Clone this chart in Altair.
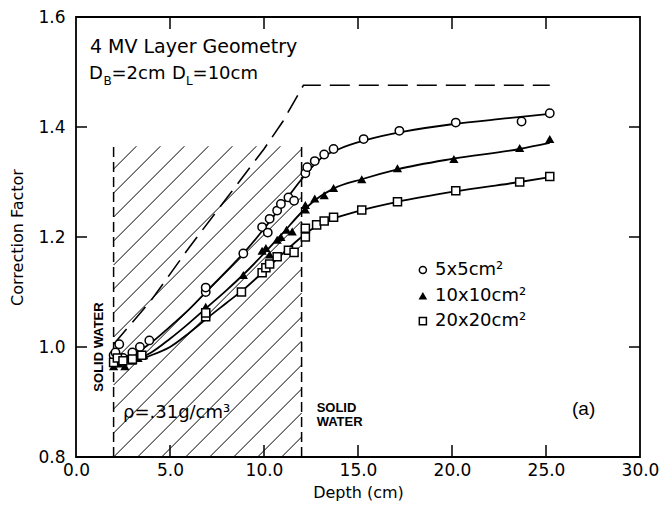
import altair as alt
import pandas as pd

# ---------------- data ----------------
X_TICKS = [0, 5, 10, 15, 20, 25, 30]
Y_TICKS = [0.8, 1.0, 1.2, 1.4, 1.6]
INNER_X_TICKS = [5, 10, 15, 20, 25]
INNER_Y_TICKS = [1.0, 1.2, 1.4]

# 5x5 cm^2 (open circles)
c5_x = [2.0, 2.1, 2.3, 2.5, 3.0, 3.4, 3.9, 6.9, 6.9, 8.9, 9.9, 10.2, 10.3, 10.7, 10.9,
        11.3, 11.6, 12.2, 12.3, 12.7, 13.2, 13.7, 15.3, 17.2, 20.2, 23.7, 25.2]
c5_y = [0.985, 0.99, 1.005, 0.98, 0.99, 1.0, 1.012, 1.1, 1.108, 1.17, 1.218, 1.208, 1.233,
        1.248, 1.26, 1.272, 1.266, 1.316, 1.327, 1.338, 1.35, 1.36, 1.378, 1.393, 1.408,
        1.41, 1.425]
c5_cx = [2.0, 2.7, 4.0, 5.0, 6.0, 7.0, 8.0, 9.0, 10.0, 11.0, 12.0, 12.5, 13.0, 14.0,
         15.5, 17.5, 20.0, 23.0, 25.2]
c5_cy = [0.985, 0.984, 1.008, 1.037, 1.068, 1.103, 1.138, 1.174, 1.215, 1.26, 1.305,
         1.325, 1.342, 1.36, 1.377, 1.392, 1.405, 1.416, 1.424]

# 10x10 cm^2 (filled triangles)
c10_x = [2.0, 2.1, 2.3, 2.6, 3.0, 3.3, 3.6, 6.9, 6.9, 8.9, 9.9, 10.1, 10.3, 10.7, 10.9,
         11.2, 11.5, 12.2, 12.2, 12.7, 13.2, 13.7, 15.2, 17.1, 20.1, 23.6, 25.2]
c10_y = [0.965, 0.975, 0.97, 0.965, 0.975, 0.98, 0.985, 1.064, 1.073, 1.131, 1.175, 1.18,
         1.168, 1.195, 1.2, 1.213, 1.21, 1.25, 1.258, 1.27, 1.276, 1.289, 1.305, 1.325,
         1.342, 1.362, 1.378]
c10_cx = [2.0, 2.5, 3.0, 4.0, 5.0, 6.0, 7.0, 8.0, 9.0, 10.0, 11.0, 12.0, 12.5, 13.0,
          13.7, 15.2, 17.1, 20.0, 23.6, 25.2]
c10_cy = [0.968, 0.97, 0.975, 0.99, 1.015, 1.043, 1.073, 1.103, 1.135, 1.17, 1.207,
          1.245, 1.261, 1.274, 1.288, 1.305, 1.323, 1.342, 1.36, 1.371]

# 20x20 cm^2 (open squares)
c20_x = [2.0, 2.2, 2.5, 3.0, 3.5, 6.9, 6.9, 8.8, 9.9, 10.1, 10.3, 10.7, 11.3, 11.6,
         12.2, 12.2, 12.8, 13.2, 13.7, 15.2, 17.1, 20.2, 23.6, 25.2]
c20_y = [0.972, 0.98, 0.975, 0.978, 0.985, 1.055, 1.062, 1.1, 1.135, 1.144, 1.151, 1.164,
         1.176, 1.172, 1.2, 1.216, 1.222, 1.229, 1.236, 1.249, 1.264, 1.284, 1.3, 1.31]
c20_cx = [2.0, 3.0, 4.0, 5.0, 6.0, 7.0, 8.0, 9.0, 10.0, 11.0, 12.0, 12.5, 13.0, 14.0,
          15.2, 17.1, 20.2, 23.6, 25.2]
c20_cy = [0.975, 0.975, 0.985, 1.0, 1.025, 1.053, 1.08, 1.107, 1.138, 1.17, 1.2, 1.213,
          1.224, 1.237, 1.249, 1.264, 1.283, 1.3, 1.309]

# dashed reference curve
dash_x = [2.0, 4.0, 6.0, 8.0, 10.0, 11.0, 12.1, 25.2]
dash_y = [1.005, 1.085, 1.18, 1.27, 1.36, 1.41, 1.476, 1.476]

# lung (hatched) slab
SLAB_X0, SLAB_X1 = 2.0, 12.0
SLAB_Y0, SLAB_Y1 = 0.8, 1.365

LEGEND_LABELS = ["5x5cm²", "10x10cm²", "20x20cm²"]
LEGEND_Y = [1.14, 1.093, 1.047]
LEGEND_SYM_X = 18.45
LEGEND_TXT_X = 19.1

# ---------------- geometry ----------------
W, H = 564, 440
XD = [0, 30]
YD = [0.8, 1.6]
PX_X = W / (XD[1] - XD[0])   # pixels per cm
PX_Y = H / (YD[1] - YD[0])   # pixels per unit

xs = alt.Scale(domain=XD, nice=False, zero=False)
ys = alt.Scale(domain=YD, nice=False, zero=False)
FONT = "DejaVu Sans"

# hatch segments (45 degree lines, 24 px apart) clipped to the slab
slab_w = (SLAB_X1 - SLAB_X0) * PX_X
slab_h = (SLAB_Y1 - SLAB_Y0) * PX_Y
hatch = []
for k in range(-14, 9):
    c = k * 24.0
    u0, v0 = (c, 0.0) if c >= 0 else (0.0, -c)
    u1 = min(slab_w, c + slab_h)
    v1 = u1 - c
    if u1 > u0 and v0 < slab_h:
        hatch.append({"x": SLAB_X0 + u0 / PX_X, "y": SLAB_Y0 + v0 / PX_Y,
                      "x2": SLAB_X0 + u1 / PX_X, "y2": SLAB_Y0 + v1 / PX_Y})
hatch_df = pd.DataFrame(hatch)

X = lambda f="x": alt.X(f, type="quantitative", scale=xs,
                        axis=alt.Axis(values=X_TICKS, format=".1f", title="Depth (cm)",
                                      grid=False, tickSize=0, domain=False, labelFlush=False,
                                      labelFontSize=17, labelPadding=5, labelColor="black",
                                      titleFontSize=16, titleFontWeight="normal",
                                      titlePadding=6, titleColor="black",
                                      labelFont=FONT, titleFont=FONT))
Y = lambda f="y": alt.Y(f, type="quantitative", scale=ys,
                        axis=alt.Axis(values=Y_TICKS, format=".1f", title="Correction Factor",
                                      grid=False, tickSize=0, domain=False, labelFlush=False,
                                      labelFontSize=17, labelPadding=11, labelColor="black",
                                      titleFontSize=16, titleFontWeight="normal",
                                      titlePadding=12, titleColor="black",
                                      labelFont=FONT, titleFont=FONT))

layers = []

# hatch
layers.append(alt.Chart(hatch_df).mark_rule(color="black", strokeWidth=1).encode(
    x=X("x"), y=Y("y"), x2="x2", y2="y2"))

# slab dashed borders
slab_df = pd.DataFrame({"x": [SLAB_X0, SLAB_X1], "y": [SLAB_Y0] * 2, "y2": [SLAB_Y1] * 2})
layers.append(alt.Chart(slab_df).mark_rule(color="black", strokeWidth=1.5,
                                           strokeDash=[10, 5]).encode(
    x=X("x"), y=Y("y"), y2="y2"))

# dashed curve
dash_df = pd.DataFrame({"x": dash_x, "y": dash_y})
layers.append(alt.Chart(dash_df).mark_line(color="black", strokeWidth=1.6,
                                           strokeDash=[20, 9]).encode(x=X(), y=Y()))

# fitted curves
for cx, cy in [(c5_cx, c5_cy), (c10_cx, c10_cy), (c20_cx, c20_cy)]:
    df = pd.DataFrame({"x": cx, "y": cy})
    layers.append(alt.Chart(df).mark_line(color="black", strokeWidth=1.8,
                                          interpolate="monotone").encode(x=X(), y=Y()))

# points
pts5 = pd.DataFrame({"x": c5_x, "y": c5_y})
pts10 = pd.DataFrame({"x": c10_x, "y": c10_y})
pts20 = pd.DataFrame({"x": c20_x, "y": c20_y})
layers.append(alt.Chart(pts5).mark_point(shape="circle", size=70, fill="white",
                                         filled=False, stroke="black", strokeWidth=1.5,
                                         opacity=1).encode(x=X(), y=Y()))
layers.append(alt.Chart(pts10).mark_point(shape="triangle-up", size=85, filled=True,
                                          color="black", opacity=1).encode(x=X(), y=Y()))
layers.append(alt.Chart(pts20).mark_point(shape="square", size=65, fill="white",
                                          filled=False, stroke="black", strokeWidth=1.5,
                                          opacity=1).encode(x=X(), y=Y()))

# legend
leg_shapes = ["circle", "triangle-up", "square"]
for lab, ly, shp in zip(LEGEND_LABELS, LEGEND_Y, leg_shapes):
    d = pd.DataFrame({"x": [LEGEND_SYM_X], "y": [ly]})
    if shp == "triangle-up":
        m = alt.Chart(d).mark_point(shape=shp, size=75, filled=True, color="black", opacity=1)
    else:
        m = alt.Chart(d).mark_point(shape=shp, size=50, fill="white", filled=False,
                                    stroke="black", strokeWidth=1.5, opacity=1)
    layers.append(m.encode(x=X(), y=Y()))
    t = pd.DataFrame({"x": [LEGEND_TXT_X], "y": [ly], "t": [lab]})
    layers.append(alt.Chart(t).mark_text(align="left", baseline="middle", font=FONT,
                                         fontSize=18, color="black").encode(
        x=X(), y=Y(), text="t"))

# inner ticks
bt = pd.DataFrame({"x": INNER_X_TICKS})
layers.append(alt.Chart(bt).mark_rule(color="black", strokeWidth=1.5).encode(
    x=X("x"), y=alt.value(H), y2=alt.value(H - 12)))
layers.append(alt.Chart(bt).mark_rule(color="black", strokeWidth=1.5).encode(
    x=X("x"), y=alt.value(0), y2=alt.value(12)))
lt = pd.DataFrame({"y": INNER_Y_TICKS})
layers.append(alt.Chart(lt).mark_rule(color="black", strokeWidth=1.5).encode(
    y=Y("y"), x=alt.value(0), x2=alt.value(11)))
layers.append(alt.Chart(lt).mark_rule(color="black", strokeWidth=1.5).encode(
    y=Y("y"), x=alt.value(W), x2=alt.value(W - 11)))


def txt(x, y, s, size=17, font=FONT, weight="normal", angle=0, align="left"):
    d = pd.DataFrame({"x": [x], "y": [y], "t": [s]})
    kw = dict(align=align, baseline="middle", font=font, fontSize=size,
              fontWeight=weight, color="black")
    if angle:
        kw["angle"] = angle
    return alt.Chart(d).mark_text(**kw).encode(x=X(), y=Y(), text="t")


layers += [
    txt(0.74, 1.545, "4 MV Layer Geometry", size=19),
    txt(0.69, 1.497, "D", size=18),
    txt(1.46, 1.484, "B", size=12),
    txt(1.89, 1.497, "=2cm", size=18),
    txt(5.1, 1.497, "D", size=18),
    txt(5.85, 1.484, "L", size=12),
    txt(6.2, 1.497, "=10cm", size=18),
    txt(1.22, 1.0, "SOLID  WATER", size=13, font="Liberation Sans", weight="bold",
        angle=270, align="center"),
    txt(2.5, 0.88, "ρ=.31g/cm³", size=18),
    txt(12.8, 0.889, "SOLID", size=13, font="Liberation Sans", weight="bold"),
    txt(12.8, 0.864, "WATER", size=13, font="Liberation Sans", weight="bold"),
    txt(27.0, 0.887, "(a)", size=19, font="Liberation Sans", align="center"),
]

chart = alt.layer(*layers).properties(
    width=W, height=H,
    autosize=alt.AutoSizeParams(type="none"),
    padding={"left": 76, "top": 17, "right": 24, "bottom": 53},
    background="white",
).configure_view(stroke="black", strokeWidth=1.8)

chart.save("out.html", embed_options={"renderer": "svg", "actions": False})
